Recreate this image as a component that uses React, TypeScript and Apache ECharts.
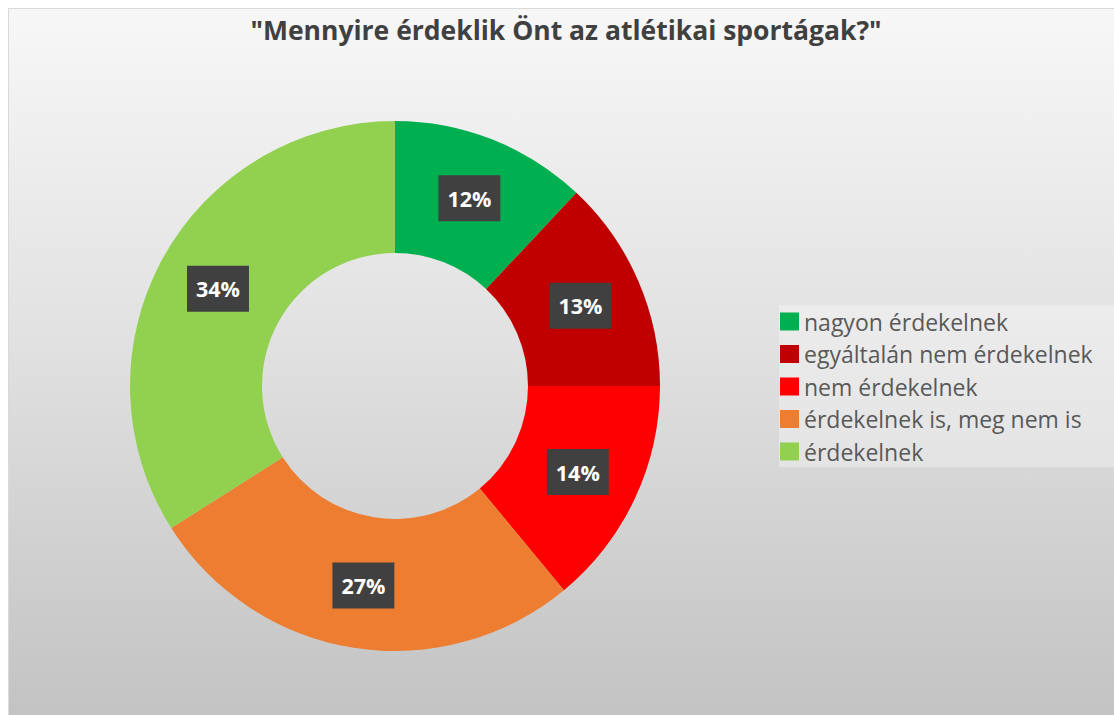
import React, { useEffect, useRef } from "react";
import * as echarts from "echarts";

const title = '"Mennyire érdeklik Önt az atlétikai sportágak?"';
const categories = [
  "nagyon érdekelnek",
  "egyáltalán nem érdekelnek",
  "nem érdekelnek",
  "érdekelnek is, meg nem is",
  "érdekelnek",
];
const values = [12, 13, 14, 27, 34];
const colors = ["#00b050", "#c00000", "#ff0000", "#ed7d31", "#92d050"];

const FONT = "'Open Sans', 'Noto Sans', sans-serif";

export default function App() {
  const ref = useRef<HTMLDivElement>(null);
  useEffect(() => {
    if (!ref.current) return;
    const chart = echarts.init(ref.current, null, { renderer: "svg" });
    chart.setOption({
      animation: false,
      backgroundColor: "transparent",
      color: colors,
      graphic: [
        {
          type: "rect",
          silent: true,
          z: -1,
          shape: { x: 771, y: 297, width: 336, height: 162 },
          style: { fill: "rgba(255,255,255,0.32)" },
        },
        {
          type: "text",
          x: 558,
          y: 22,
          style: {
            text: title,
            fill: "#404040",
            font: `bold 26.5px ${FONT}`,
            align: "center",
            verticalAlign: "middle",
          },
        },
      ],
      legend: {
        orient: "vertical",
        left: 771,
        top: 297,
        padding: [5, 0, 5, 1],
        itemWidth: 19,
        itemHeight: 18,
        itemGap: 9.5,
        icon: "rect",
        data: categories,
        textStyle: {
          color: "#595959",
          fontSize: 23,
          fontFamily: FONT,
          lineHeight: 18,
        },
      },
      series: [
        {
          type: "pie",
          center: [387, 378],
          radius: [133, 265],
          startAngle: 90,
          clockwise: true,
          avoidLabelOverlap: false,
          label: {
            show: true,
            position: "inside",
            formatter: (p: any) => `${p.value}%`,
            color: "#ffffff",
            fontWeight: "bold",
            fontSize: 21.5,
            fontFamily: FONT,
            backgroundColor: "#404040",
            padding: [11, 9, 11, 9],
            lineHeight: 24,
          },
          labelLine: { show: false },
          emphasis: { disabled: true },
          itemStyle: { borderWidth: 0 },
          data: categories.map((name, i) => ({ name, value: values[i] })),
        },
      ],
    });
    return () => chart.dispose();
  }, []);
  return (
    <div
      style={{
        position: "fixed",
        left: 8,
        top: 8,
        width: 1106,
        height: 707,
        boxSizing: "border-box",
        borderTop: "1px solid #d9d9d9",
        borderLeft: "1px solid #d9d9d9",
        background: "linear-gradient(to bottom, #f7f7f7 0%, #e2e2e2 45%, #c3c3c3 100%)",
      }}
    >
      <div ref={ref} style={{ position: "absolute", left: -1, top: -1, width: 1106, height: 707 }} />
    </div>
  );
}
